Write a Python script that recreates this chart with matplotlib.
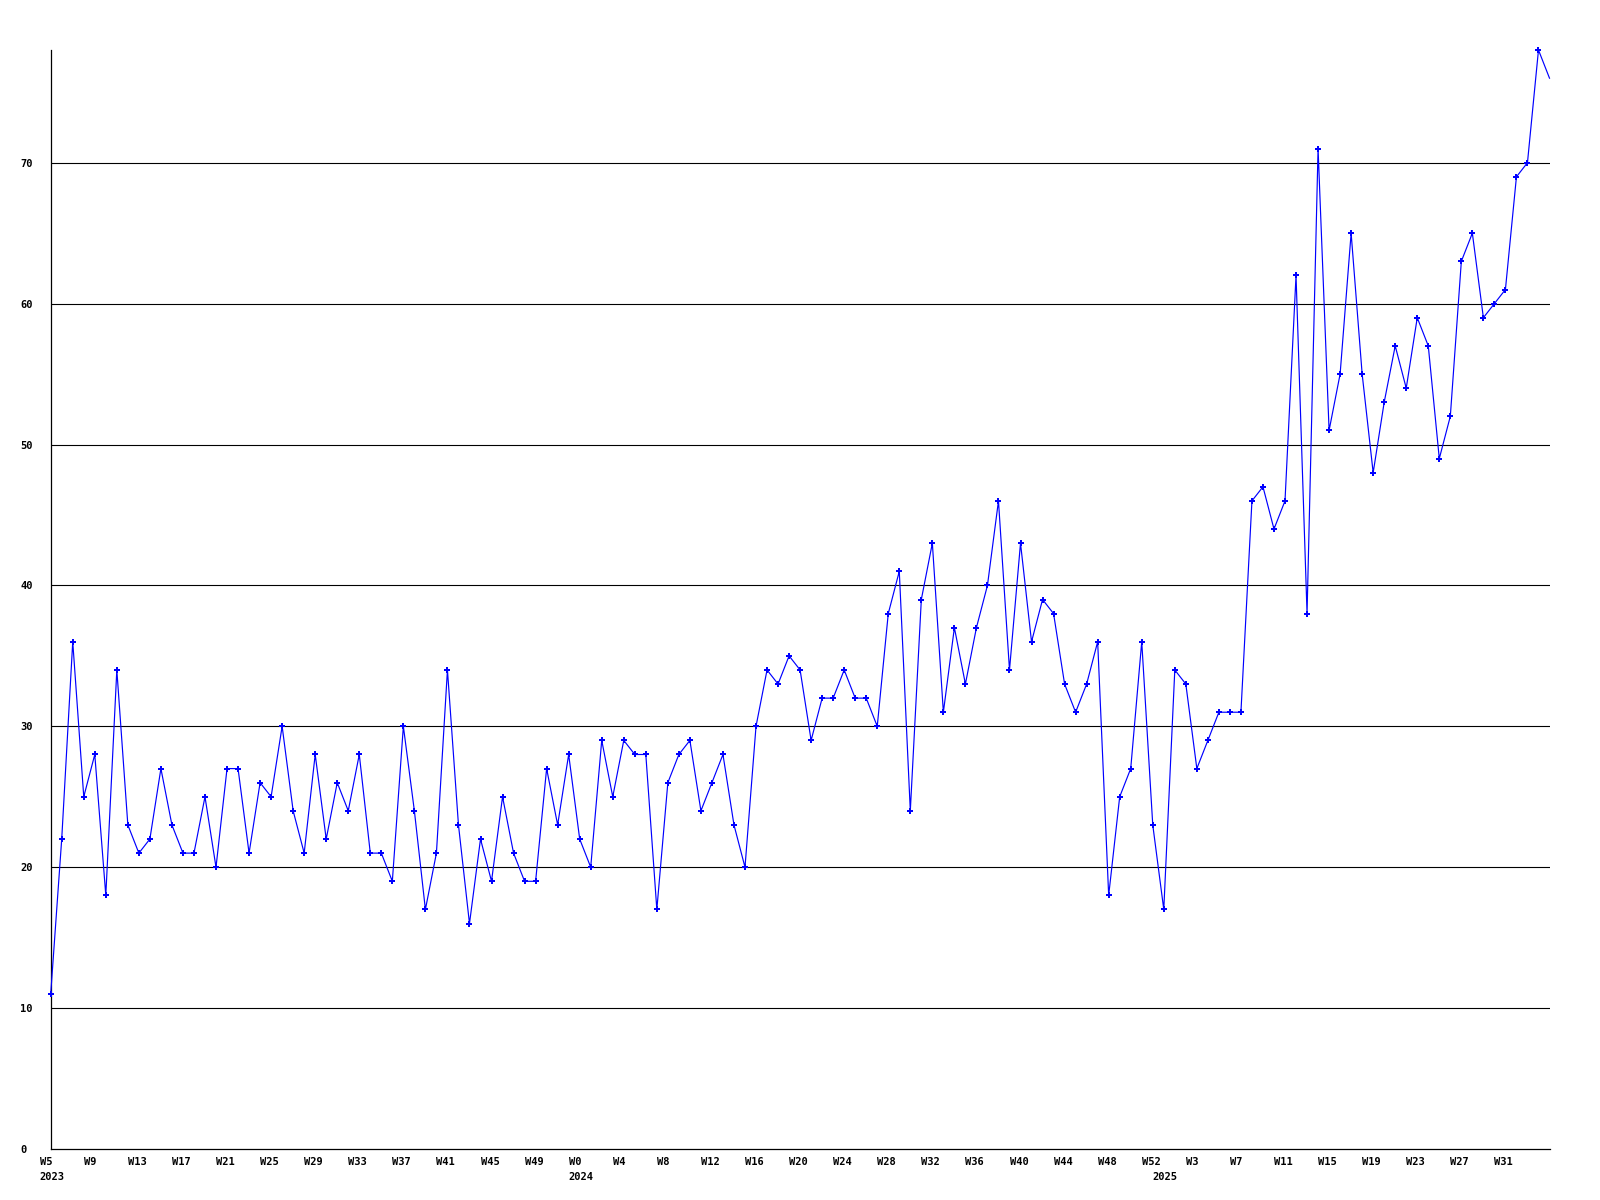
import matplotlib
matplotlib.use("Agg")
import matplotlib.pyplot as plt
import matplotlib.transforms as mtransforms

# weekly values, W5 2023 .. W35 2025
values = [
    11, 22, 36, 25, 28, 18, 34, 23, 21, 22, 27, 23, 21, 21, 25, 20, 27, 27, 21, 26,
    25, 30, 24, 21, 28, 22, 26, 24, 28, 21, 21, 19, 30, 24, 17, 21, 34, 23, 16, 22,
    19, 25, 21, 19, 19, 27, 23, 28, 22, 20, 29, 25, 29, 28, 28, 17, 26, 28, 29, 24,
    26, 28, 23, 20, 30, 34, 33, 35, 34, 29, 32, 32, 34, 32, 32, 30, 38, 41, 24, 39,
    43, 31, 37, 33, 37, 40, 46, 34, 43, 36, 39, 38, 33, 31, 33, 36, 18, 25, 27, 36,
    23, 17, 34, 33, 27, 29, 31, 31, 31, 46, 47, 44, 46, 62, 38, 71, 51, 55, 65, 55,
    48, 53, 57, 54, 59, 57, 49, 52, 63, 65, 59, 60, 61, 69, 70, 78, 76,
]

week_labels = [
    "W5", "W9", "W13", "W17", "W21", "W25", "W29", "W33", "W37", "W41", "W45", "W49",
    "W0", "W4", "W8", "W12", "W16", "W20", "W24", "W28", "W32", "W36", "W40", "W44", "W48", "W52",
    "W3", "W7", "W11", "W15", "W19", "W23", "W27", "W31",
]
week_tick_step = 4

years = ["2023", "2024", "2025"]
year_start_index = [0, 48, 101]

y_ticks = [0, 10, 20, 30, 40, 50, 60, 70]

FONT = dict(family="DejaVu Sans Mono", weight="bold", size=7.5)

fig = plt.figure(figsize=(16, 12), dpi=100)
W, H = 1600, 1200
left, right, top, bottom = 50.7, 1549.5, 50, 1149
ax = fig.add_axes([left / W, 1 - bottom / H, (right - left) / W, (bottom - top) / H])

x = list(range(len(values)))
ax.set_xlim(0, len(values) - 1)
ax.set_ylim(0, max(values))

for yv in y_ticks[1:]:
    ax.axhline(yv, color="black", lw=0.8, zorder=1)

ax.plot(x, values, color="#0000ff", lw=0.85, marker="P", ms=3.8, mew=0,
        markevery=list(range(len(values) - 1)), zorder=3, clip_on=False)

for s in ("top", "right"):
    ax.spines[s].set_visible(False)
for s in ("left", "bottom"):
    ax.spines[s].set_color("black")
    ax.spines[s].set_linewidth(0.9)

# y ticks
ax.set_yticks(y_ticks)
ax.set_yticklabels([str(v) for v in y_ticks], fontdict=FONT)
ax.tick_params(axis="y", length=0, pad=22)
for lbl in ax.get_yticklabels():
    lbl.set_horizontalalignment("left")

# x ticks
xt = [i * week_tick_step for i in range(len(week_labels))]
ax.set_xticks(xt)
ax.set_xticklabels(week_labels, fontdict=FONT)
ax.tick_params(axis="x", length=0, pad=6)
offset = mtransforms.ScaledTranslation(-11 / 100, 0, fig.dpi_scale_trans)
for lbl in ax.get_xticklabels():
    lbl.set_horizontalalignment("left")
    lbl.set_transform(lbl.get_transform() + offset)

for yr, idx in zip(years, year_start_index):
    ax.annotate(yr, xy=(idx, 0), xycoords=("data", "axes fraction"),
                xytext=(-11, -28), textcoords="offset pixels",
                ha="left", va="center", **FONT)

fig.savefig("out.png", dpi=100)
